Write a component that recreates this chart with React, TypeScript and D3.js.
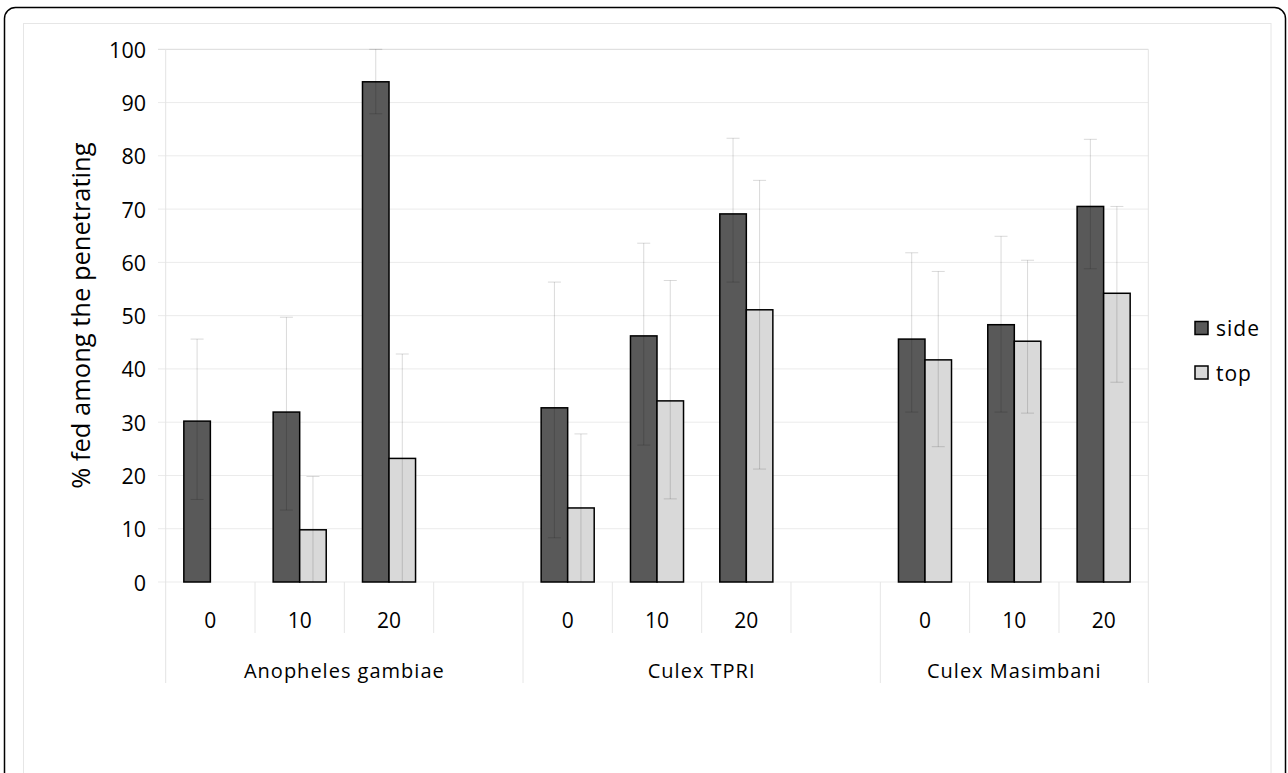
import React from "react";
import * as d3 from "d3";

const groups = ["Anopheles gambiae", "Culex TPRI", "Culex Masimbani"];
const doses = ["0", "10", "20"];
const seriesNames = ["side", "top"];
const seriesColors = ["#595959", "#d9d9d9"];

// values in order: group x dose
const sideValues = [30.2, 31.9, 93.9, 32.7, 46.2, 69.1, 45.6, 48.3, 70.5];
const sideLow = [15.5, 13.5, 87.9, 8.3, 25.7, 56.3, 31.9, 31.9, 58.8];
const sideHigh = [45.6, 49.7, 100, 56.3, 63.6, 83.3, 61.8, 64.9, 83.1];
const topValues: (number | null)[] = [null, 9.8, 23.2, 13.9, 34.0, 51.1, 41.7, 45.2, 54.2];
const topLow: (number | null)[] = [null, 0, 0, 0, 15.6, 21.2, 25.4, 31.7, 37.5];
const topHigh: (number | null)[] = [null, 19.8, 42.8, 27.8, 56.6, 75.4, 58.3, 60.4, 70.5];
const yTicks = [0, 10, 20, 30, 40, 50, 60, 70, 80, 90, 100];
const yTitle = "% fed among the penetrating";

const W = 1288;
const H = 773;
const FONT = "'Open Sans', sans-serif";

export default function App() {
  const left = 165.7, right = 1148.3, top = 49.3, bottom = 582;
  const slots: { key: string; g: number; d: number | null }[] = [];
  groups.forEach((g, gi) => {
    doses.forEach((d, di) => slots.push({ key: `${gi}-${di}`, g: gi, d: di }));
    if (gi < groups.length - 1) slots.push({ key: `${gi}-sp`, g: gi, d: null });
  });
  const x = d3.scaleBand<string>().domain(slots.map((s) => s.key)).range([left, right]).padding(0);
  const y = d3.scaleLinear().domain([0, 100]).range([bottom, top]);
  const bw = x.bandwidth() * 0.297;

  const groupStarts: number[] = [];
  slots.forEach((s, i) => {
    if (i === 0 || slots[i - 1].g !== s.g) groupStarts.push(i);
  });

  const series = [
    { vals: sideValues, lo: sideLow, hi: sideHigh },
    { vals: topValues, lo: topLow, hi: topHigh },
  ];

  return (
    <svg width={W} height={H} style={{ position: "absolute", left: 0, top: 0, background: "#fff" }} fontFamily={FONT}>
      <rect x={4.5} y={7.5} width={1281} height={820} rx={11} fill="#fff" stroke="#000" strokeWidth={1.5} />
      <rect x={23.5} y={23.5} width={1247.5} height={800} fill="none" stroke="#e6e6e6" strokeWidth={1} />
      {yTicks.map((t) => (
        <line key={t} x1={158} x2={right} y1={y(t)} y2={y(t)} stroke={t === 100 ? "#d9d9d9" : "#ebebeb"} strokeWidth={1} />
      ))}
      <line x1={left} x2={left} y1={top} y2={683} stroke="#e3e3e3" />
      <line x1={right} x2={right} y1={top} y2={683} stroke="#e3e3e3" />
      {slots.map((s, i) => {
        if (i === 0) return null;
        const xx = x(s.key)!;
        const isGroup = groupStarts.includes(i);
        return <line key={s.key} x1={xx} x2={xx} y1={bottom} y2={isGroup ? 683 : 633} stroke="#e6e6e6" />;
      })}
      {yTicks.map((t) => (
        <text key={t} x={146} y={y(t)} textAnchor="end" dominantBaseline="central" fontSize={21.5} fill="#000">
          {t}
        </text>
      ))}
      <text
        transform={`translate(80,${(top + bottom) / 2}) rotate(-90)`}
        textAnchor="middle"
        dominantBaseline="central"
        fontSize={25.5}
        fill="#000"
      >
        {yTitle}
      </text>
      {slots.map((s) => {
        if (s.d === null) return null;
        const idx = s.g * doses.length + s.d;
        const cx = x(s.key)! + x.bandwidth() / 2;
        return (
          <g key={s.key}>
            {series.map((se, si) => {
              const v = se.vals[idx];
              if (v === null || v === undefined) return null;
              const bx = cx - bw + si * bw;
              return (
                <rect key={si} x={bx} y={y(v)} width={bw} height={y(0) - y(v)} fill={seriesColors[si]} stroke="#000" strokeWidth={1.5} />
              );
            })}
            {series.map((se, si) => {
              const lo = se.lo[idx];
              const hi = se.hi[idx];
              if (lo === null || hi === null) return null;
              const ex = cx - bw / 2 + si * bw;
              return (
                <g key={"e" + si} stroke="#000" strokeOpacity={0.15} strokeWidth={1}>
                  <line x1={ex} x2={ex} y1={y(lo)} y2={y(hi)} />
                  <line x1={ex - 6.5} x2={ex + 6.5} y1={y(hi)} y2={y(hi)} />
                  {lo > 0 && <line x1={ex - 6.5} x2={ex + 6.5} y1={y(lo)} y2={y(lo)} />}
                </g>
              );
            })}
            <text x={cx} y={620} textAnchor="middle" dominantBaseline="central" fontSize={21} fill="#000">
              {doses[s.d]}
            </text>
          </g>
        );
      })}
      {groups.map((g, gi) => {
        const first = slots.findIndex((s) => s.g === gi);
        const last = slots.length - 1 - [...slots].reverse().findIndex((s) => s.g === gi);
        const x0 = x(slots[first].key)!;
        const x1 = x(slots[last].key)! + x.bandwidth();
        return (
          <text key={g} x={(x0 + x1) / 2} y={670} textAnchor="middle" dominantBaseline="central" fontSize={20} letterSpacing={1} fill="#000">
            {g}
          </text>
        );
      })}
      {seriesNames.map((n, i) => (
        <g key={n} transform={`translate(1195,${321.5 + i * 44.5})`}>
          <rect x={0} y={0} width={13} height={13} fill={seriesColors[i]} stroke="#000" strokeWidth={1.5} />
          <text x={21} y={6.5} dominantBaseline="central" fontSize={21} letterSpacing={1} fill="#000">
            {n}
          </text>
        </g>
      ))}
    </svg>
  );
}
